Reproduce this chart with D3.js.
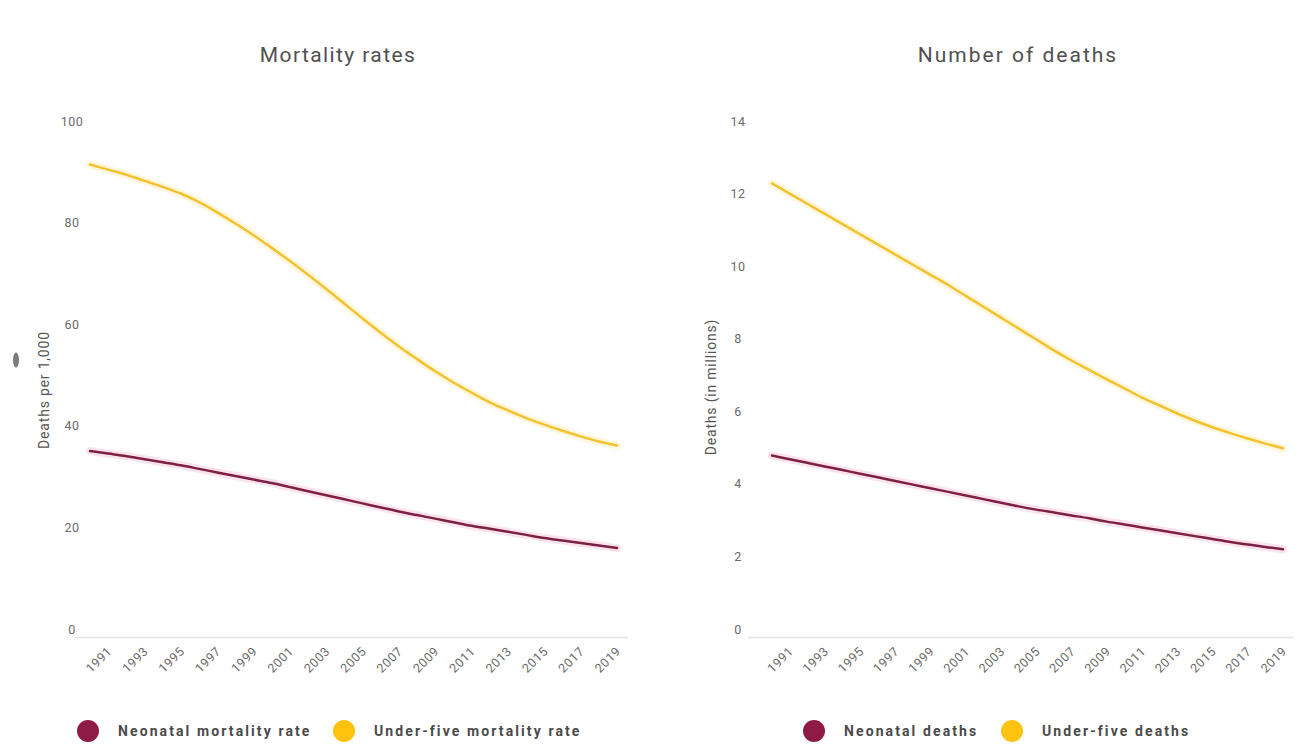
<!DOCTYPE html>
<html><head><meta charset="utf-8">
<script src="https://cdn.jsdelivr.net/npm/d3@7"></script>
<style>
body{margin:0;background:#fff;font-family:Roboto,"Noto Sans",Arial,sans-serif;}
svg{display:block}
</style></head>
<body>
<svg id="c" width="1312" height="744"></svg>
<script>
const years = d3.range(1990, 2020);
const xTickYears = [1991,1993,1995,1997,1999,2001,2003,2005,2007,2009,2011,2013,2015,2017,2019];

const under5Rate = [93.0,92.0,91.0,89.8,88.6,87.3,85.6,83.6,81.4,79.1,76.6,74.0,71.3,68.5,65.6,62.7,59.9,57.2,54.7,52.3,50.1,48.1,46.2,44.6,43.1,41.8,40.6,39.5,38.5,37.7];
const neonatalRate = [36.6,36.1,35.6,35.0,34.4,33.8,33.1,32.4,31.7,31.0,30.3,29.5,28.7,27.9,27.1,26.3,25.5,24.7,24.0,23.3,22.6,21.9,21.3,20.7,20.1,19.5,19.0,18.5,18.0,17.5];
const under5Deaths = [12.5,12.22,11.94,11.66,11.38,11.1,10.82,10.54,10.26,9.98,9.7,9.4,9.1,8.8,8.5,8.2,7.9,7.62,7.36,7.1,6.85,6.6,6.38,6.16,5.96,5.78,5.62,5.47,5.33,5.2];
const neonatalDeaths = [5.0,4.9,4.8,4.7,4.6,4.5,4.4,4.3,4.2,4.1,4.0,3.9,3.8,3.7,3.6,3.51,3.43,3.35,3.27,3.18,3.1,3.02,2.94,2.86,2.78,2.7,2.62,2.55,2.48,2.42];

const rateTicks = [0,20,40,60,80,100];
const deathTicks = [0,2,4,6,8,10,12,14];

const MAROON = "#8E1B45", YELLOW = "#FFC20E";
const LINE_MAROON = "#7E1F44", LINE_YELLOW = "#F3C230";
const FONT = "Roboto,'Noto Sans',Arial,sans-serif";

const svg = d3.select("#c");

svg.append("ellipse").attr("cx",16).attr("cy",360).attr("rx",3).attr("ry",7.5).attr("fill","#5a5a5a").attr("opacity",0.8);

function panel(cfg){
  const g = svg.append("g");
  const x = d3.scaleLinear().domain([1990,2019]).range([cfg.x0, cfg.x1]);
  const y = d3.scaleLinear().domain([0, cfg.ymax]).range([637, 129]);

  g.append("text").attr("x",cfg.titleX).attr("y",62).attr("text-anchor","middle")
    .attr("font-size",21).attr("letter-spacing",cfg.titleLS).attr("fill","#505050").text(cfg.title);

  g.append("line").attr("x1",cfg.base0).attr("x2",cfg.base1).attr("y1",637.5).attr("y2",637.5)
    .attr("stroke","#e4e4e4").attr("stroke-width",1.5);

  const ya = g.append("g").attr("transform",`translate(${cfg.yLabX},-8)`)
    .call(d3.axisLeft(y).tickValues(cfg.yTicks).tickSize(0).tickPadding(0).tickFormat(d3.format("d")));
  ya.select(".domain").remove();
  ya.selectAll("text").attr("font-size",12.5).attr("fill","#6a6a6a").attr("text-anchor","middle")
    .attr("letter-spacing",0.4).attr("font-family",FONT);

  const xa = g.append("g").attr("transform",`translate(0,640)`)
    .call(d3.axisBottom(x).tickValues(xTickYears).tickSize(0).tickFormat(d3.format("d")));
  xa.select(".domain").remove();
  xa.selectAll("text").attr("font-size",12.5).attr("fill","#6a6a6a").attr("text-anchor","end")
    .attr("letter-spacing",0.6).attr("font-family",FONT)
    .attr("dy",0).attr("y",0)
    .attr("transform",`translate(${cfg.xLabDx},12) rotate(-45)`);

  g.append("text").attr("transform",`translate(${cfg.yTitleX},${cfg.yTitleY}) rotate(-90)`)
    .attr("text-anchor","middle").attr("font-size",14).attr("letter-spacing",0.8).attr("fill","#555").text(cfg.yTitle);

  const line = d3.line().x((d,i)=>x(years[i])).y(d=>y(d)).curve(d3.curveMonotoneX);
  cfg.series.forEach(s=>{
    g.append("path").attr("d",line(s.values)).attr("fill","none").attr("stroke",s.halo)
      .attr("stroke-width",8).attr("stroke-opacity",0.15).attr("stroke-linecap","round");
    g.append("path").attr("d",line(s.values)).attr("fill","none").attr("stroke",s.color)
      .attr("stroke-width",2.5).attr("stroke-linecap","round");
  });

  cfg.legend.forEach(l=>{
    g.append("circle").attr("cx",l.cx).attr("cy",731).attr("r",11).attr("fill",l.color);
    g.append("text").attr("x",l.cx+30).attr("y",736).attr("font-size",14).attr("font-weight","bold")
      .attr("letter-spacing",2.1).attr("fill","#4a4a4a").text(l.label);
  });
}

panel({
  x0:90, x1:617, ymax:100, yTicks:rateTicks, base0:76, base1:628, yLabX:72, xLabDx:4, titleLS:1.4,
  title:"Mortality rates", titleX:338, yTitle:"Deaths per 1,000", yTitleX:49, yTitleY:390,
  series:[{values:under5Rate,color:LINE_YELLOW,halo:YELLOW},{values:neonatalRate,color:LINE_MAROON,halo:"#E0457A"}],
  legend:[{cx:88,color:MAROON,label:"Neonatal mortality rate"},{cx:344,color:YELLOW,label:"Under-five mortality rate"}]
});
panel({
  x0:772, x1:1283, ymax:14, yTicks:deathTicks, base0:748, base1:1294, yLabX:738, xLabDx:4, titleLS:2.0,
  title:"Number of deaths", titleX:1018, yTitle:"Deaths (in millions)", yTitleX:716, yTitleY:387,
  series:[{values:under5Deaths,color:LINE_YELLOW,halo:YELLOW},{values:neonatalDeaths,color:LINE_MAROON,halo:"#E0457A"}],
  legend:[{cx:814,color:MAROON,label:"Neonatal deaths"},{cx:1012,color:YELLOW,label:"Under-five deaths"}]
});
</script>
</body></html>
